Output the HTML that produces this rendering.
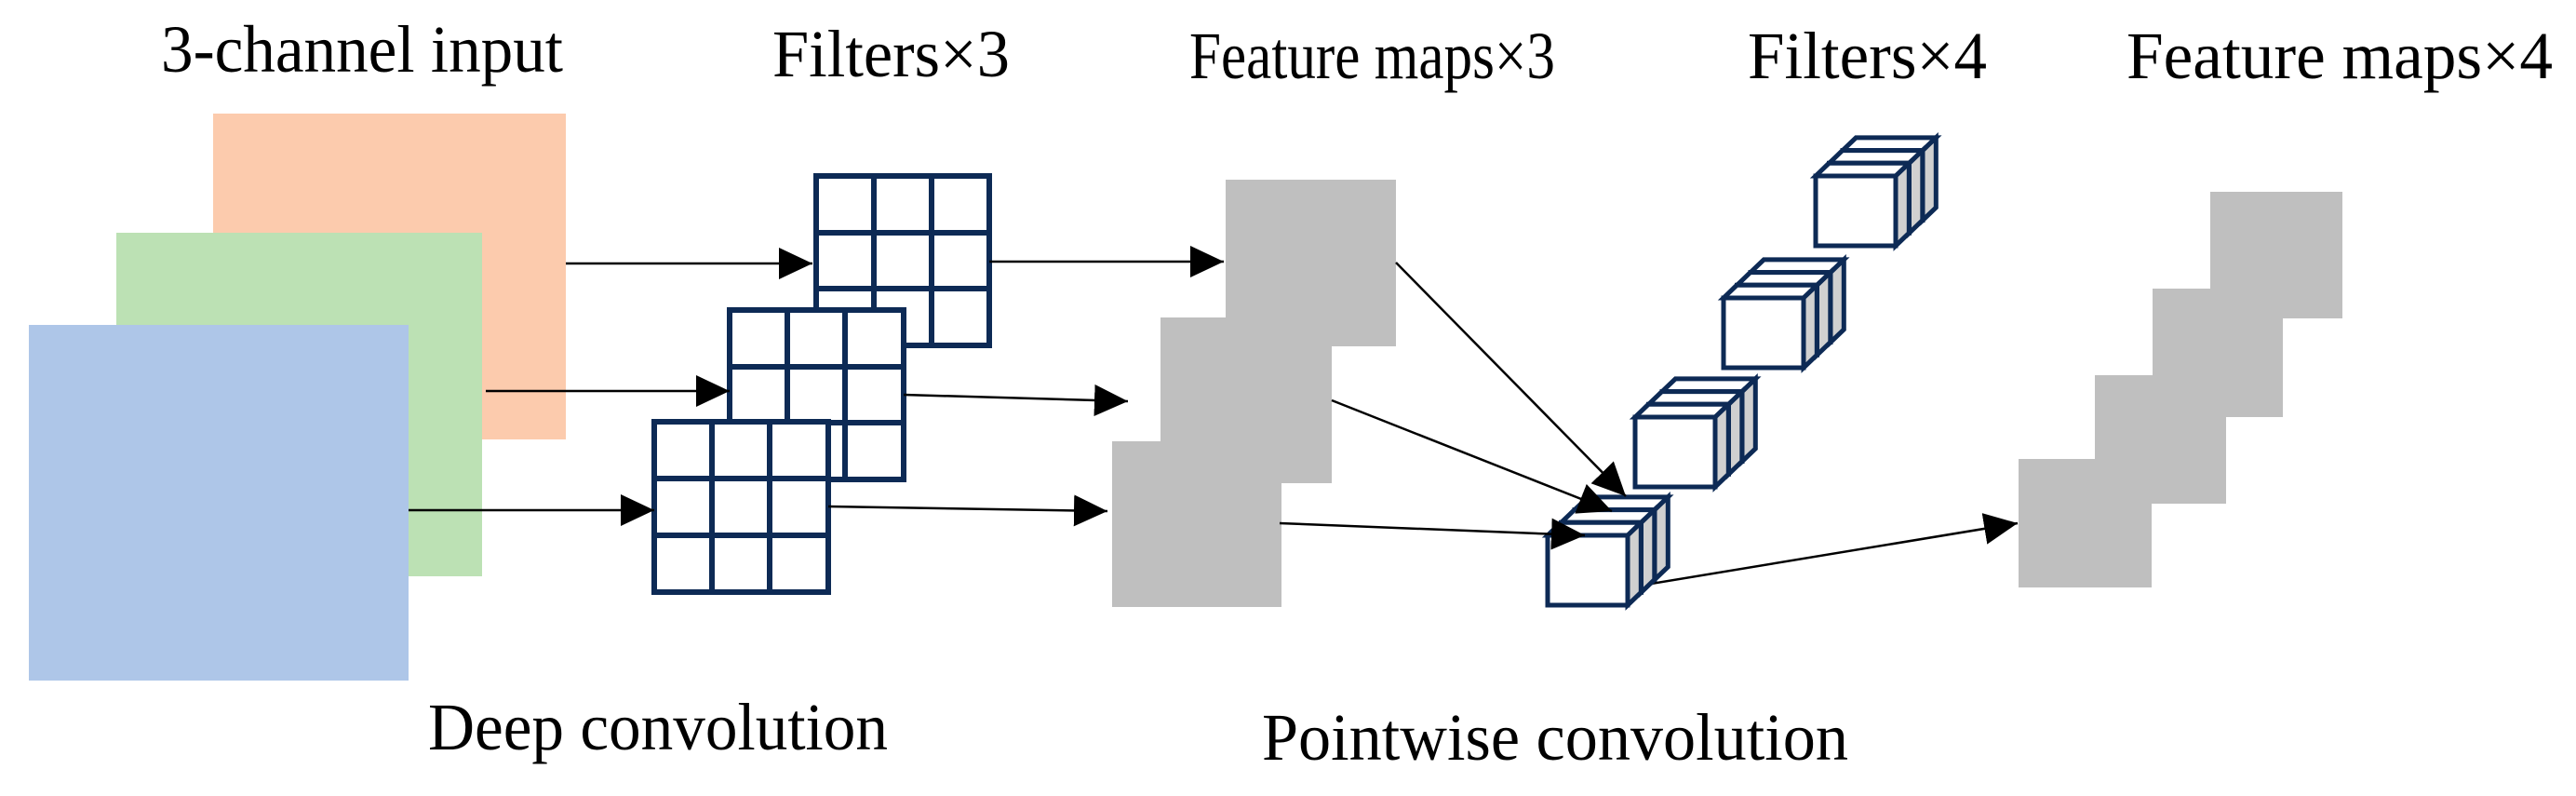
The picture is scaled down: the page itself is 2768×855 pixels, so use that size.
<!DOCTYPE html>
<html><head><meta charset="utf-8"><style>html,body{margin:0;padding:0;background:#fff}svg{display:block}</style></head>
<body>
<svg width="2768" height="855" viewBox="0 0 2768 855" xmlns="http://www.w3.org/2000/svg">
<defs>
<marker id="ah" markerUnits="userSpaceOnUse" markerWidth="40" markerHeight="36" refX="36" refY="17" orient="auto">
<polygon points="0,0 36,17 0,34" fill="#000"/>
</marker>
</defs>
<g font-family="Liberation Serif, serif" font-size="72" fill="#000">
<text x="173" y="77" textLength="432" lengthAdjust="spacingAndGlyphs">3-channel input</text>
<text x="830" y="82" textLength="255" lengthAdjust="spacingAndGlyphs">Filters×3</text>
<text x="1278" y="84" textLength="393" lengthAdjust="spacingAndGlyphs">Feature maps×3</text>
<text x="1878" y="84" textLength="257" lengthAdjust="spacingAndGlyphs">Filters×4</text>
<text x="2285" y="84" textLength="458" lengthAdjust="spacingAndGlyphs">Feature maps×4</text>
<text x="460" y="805" textLength="494" lengthAdjust="spacingAndGlyphs">Deep convolution</text>
<text x="1356" y="816" textLength="630" lengthAdjust="spacingAndGlyphs">Pointwise convolution</text>
</g>
<rect x="229" y="122" width="379" height="350" fill="#fccbad"/>
<rect x="125" y="250" width="393" height="369" fill="#bce1b4"/>
<rect x="31" y="349" width="408" height="382" fill="#aec6e8"/>
<g fill="#fff" stroke="#0d2a55" stroke-width="6">
<g transform="translate(877,189)"><rect width="186" height="182"/><path d="M62,0V182M124,0V182M0,61H186M0,121H186" fill="none"/></g>
<g transform="translate(784,333)"><rect width="187" height="182"/><path d="M62,0V182M124,0V182M0,61H187M0,121H187" fill="none"/></g>
<g transform="translate(703,453)"><rect width="187" height="183"/><path d="M62,0V183M124,0V183M0,61H187M0,122H187" fill="none"/></g>
</g>
<g fill="#bfbfbf">
<rect x="1317" y="193" width="183" height="179"/>
<rect x="1247" y="341" width="184" height="178"/>
<rect x="1195" y="474" width="182" height="178"/>
<rect x="2375" y="206" width="142" height="136"/>
<rect x="2313" y="310" width="140" height="138"/>
<rect x="2251" y="403" width="141" height="138"/>
<rect x="2169" y="493" width="143" height="138"/>
</g>
<g stroke="#000" stroke-width="2.5" fill="none" marker-end="url(#ah)">
<line x1="608" y1="283" x2="873" y2="283"/>
<line x1="522" y1="420" x2="784" y2="420"/>
<line x1="439" y1="548" x2="703" y2="548"/>
<line x1="1063" y1="281" x2="1315" y2="281"/>
<line x1="971" y1="424" x2="1212" y2="431"/>
<line x1="890" y1="544" x2="1190" y2="549"/>
<line x1="1768" y1="628" x2="2168" y2="562"/>
</g>
<g stroke="#0d2a55" stroke-width="5" stroke-linejoin="miter">
<g id="cube" transform="translate(1951,189)">
<g transform="translate(29,-27.4)"><path d="M0,0L14.3,-13.7H100.3L86,0Z" fill="#fff"/><path d="M86,0L100.3,-13.7V61.3L86,75Z" fill="#d0d0d0"/><rect width="86" height="75" fill="#fff"/></g>
<g transform="translate(14.5,-13.7)"><path d="M0,0L14.3,-13.7H100.3L86,0Z" fill="#fff"/><path d="M86,0L100.3,-13.7V61.3L86,75Z" fill="#d0d0d0"/><rect width="86" height="75" fill="#fff"/></g>
<g><path d="M0,0L14.3,-13.7H100.3L86,0Z" fill="#fff"/><path d="M86,0L100.3,-13.7V61.3L86,75Z" fill="#d0d0d0"/><rect width="86" height="75" fill="#fff"/></g>
</g>
<use href="#cube" transform="translate(-99,131)"/>
<use href="#cube" transform="translate(-194,259)"/>
<use href="#cube" transform="translate(-288,386)"/>
</g>
<g stroke="#000" stroke-width="2.5" fill="none" marker-end="url(#ah)">
<line x1="1500" y1="282" x2="1747" y2="533"/>
<line x1="1431" y1="430" x2="1732" y2="549"/>
<line x1="1375" y1="562" x2="1703" y2="575"/>
</g>
</svg>
</body></html>
